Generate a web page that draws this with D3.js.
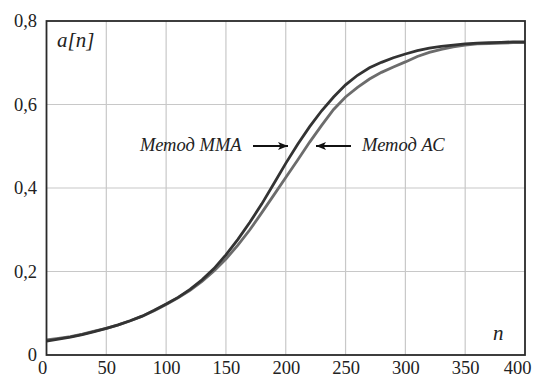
<!DOCTYPE html>
<html>
<head>
<meta charset="utf-8">
<script src="https://cdn.jsdelivr.net/npm/d3@7"></script>
<style>
  body { margin: 0; background: #fff; }
  svg { display: block; }
  text { font-family: "Liberation Serif", "Times New Roman", "DejaVu Serif", serif; }
</style>
</head>
<body>
<div id="chart"></div>
<script>
const nValues = [0,10,20,30,40,50,60,70,80,90,100,110,120,130,140,150,160,170,180,190,200,
  210,220,230,240,250,260,270,280,290,300,310,320,330,340,350,360,370,380,390,400]
const mmaValues = [0.033,0.038,0.043,0.049,0.056,0.064,0.072,0.082,0.093,0.107,0.122,
  0.138,0.157,0.180,0.207,0.240,0.277,0.318,0.362,0.410,0.459,0.505,0.547,0.585,0.618,
  0.647,0.670,0.688,0.701,0.712,0.721,0.729,0.735,0.739,0.742,0.745,0.747,0.748,0.749,0.750,0.750]
const acValues = [0.036,0.040,0.044,0.050,0.057,0.064,0.072,0.082,0.093,0.106,0.121,
  0.137,0.155,0.176,0.201,0.230,0.263,0.300,0.341,0.383,0.425,0.467,0.510,0.550,0.588,
  0.618,0.641,0.661,0.677,0.690,0.702,0.715,0.725,0.732,0.738,0.742,0.745,0.746,0.747,0.748,0.748]
const xTicks = [0,50,100,150,200,250,300,350,400]
const yTicks = [0,0.2,0.4,0.6,0.8]

const width = 533, height = 378
const margin = { top: 21, right: 8, bottom: 23, left: 46.5 }
const innerW = width - margin.left - margin.right
const innerH = height - margin.top - margin.bottom

const x = d3.scaleLinear().domain([0, 400]).range([margin.left, margin.left + innerW])
const y = d3.scaleLinear().domain([0, 0.8]).range([margin.top + innerH, margin.top])

const svg = d3.select("#chart").append("svg")
  .attr("width", width).attr("height", height)

// grid
svg.append("g").selectAll("line").data(xTicks.slice(1, -1)).join("line")
  .attr("x1", d => x(d)).attr("x2", d => x(d))
  .attr("y1", y(0.8)).attr("y2", y(0))
  .attr("stroke", "#c8c8c8").attr("stroke-width", 1.2)
svg.append("g").selectAll("line").data(yTicks.slice(1, -1)).join("line")
  .attr("x1", x(0)).attr("x2", x(400))
  .attr("y1", d => y(d)).attr("y2", d => y(d))
  .attr("stroke", "#c8c8c8").attr("stroke-width", 1.2)

const fmt = d => d === 0 ? "0" : d3.format(".1f")(d).replace(".", ",")
const serif = '"Liberation Serif", "Times New Roman", serif'

// axes (labels only)
const xAxis = svg.append("g")
  .attr("transform", `translate(0,${y(0)})`)
  .call(d3.axisBottom(x).tickValues(xTicks).tickSize(0).tickPadding(6).tickFormat(d => d))
xAxis.attr("font-family", serif)
xAxis.select(".domain").remove()
xAxis.selectAll("text")
  .attr("font-size", 18.5).attr("fill", "#222")
  .attr("dx", d => d === 0 ? -4.5 : d === 400 ? -8 : 0)

const yAxis = svg.append("g")
  .attr("transform", `translate(${x(0)},0)`)
  .call(d3.axisLeft(y).tickValues(yTicks).tickSize(0).tickPadding(9.5).tickFormat(fmt))
yAxis.attr("font-family", serif)
yAxis.select(".domain").remove()
yAxis.selectAll("text")
  .attr("font-size", 18.5).attr("fill", "#222")

// curves
const line = d3.line().x((d, i) => x(nValues[i])).y(d => y(d))
svg.append("path").datum(acValues)
  .attr("d", line).attr("fill", "none")
  .attr("stroke", "#6c6c6c").attr("stroke-width", 2.8)
svg.append("path").datum(mmaValues)
  .attr("d", line).attr("fill", "none")
  .attr("stroke", "#333").attr("stroke-width", 2.8)

// frame
svg.append("rect")
  .attr("x", x(0)).attr("y", y(0.8))
  .attr("width", x(400) - x(0)).attr("height", y(0) - y(0.8))
  .attr("fill", "none").attr("stroke", "#2a2a2a").attr("stroke-width", 1.8)

// axis names
svg.append("text").attr("x", 57).attr("y", 47)
  .attr("font-size", 21).attr("font-style", "italic").attr("fill", "#222")
  .text("a[n]")
svg.append("text").attr("x", 493).attr("y", 340)
  .attr("font-size", 21).attr("font-style", "italic").attr("fill", "#222")
  .text("n")

// annotations
svg.append("defs").append("marker")
  .attr("id", "arr").attr("viewBox", "0 0 10 8")
  .attr("refX", 10).attr("refY", 4)
  .attr("markerWidth", 11).attr("markerHeight", 8)
  .attr("markerUnits", "userSpaceOnUse")
  .attr("orient", "auto")
  .append("path").attr("d", "M0,0 L10,4 L0,8 L2.5,4 Z").attr("fill", "#111")

const arrowY = 146
svg.append("text").attr("x", 140).attr("y", 151)
  .attr("font-size", 18.5).attr("font-style", "italic").attr("fill", "#222")
  .text("Метод ММА")
svg.append("line")
  .attr("x1", 253).attr("x2", 288).attr("y1", arrowY).attr("y2", arrowY)
  .attr("stroke", "#111").attr("stroke-width", 2).attr("marker-end", "url(#arr)")
svg.append("line")
  .attr("x1", 351).attr("x2", 316).attr("y1", arrowY).attr("y2", arrowY)
  .attr("stroke", "#111").attr("stroke-width", 2).attr("marker-end", "url(#arr)")
svg.append("text").attr("x", 362).attr("y", 151)
  .attr("font-size", 18.5).attr("font-style", "italic").attr("fill", "#222")
  .text("Метод АС")
</script>
</body>
</html>
